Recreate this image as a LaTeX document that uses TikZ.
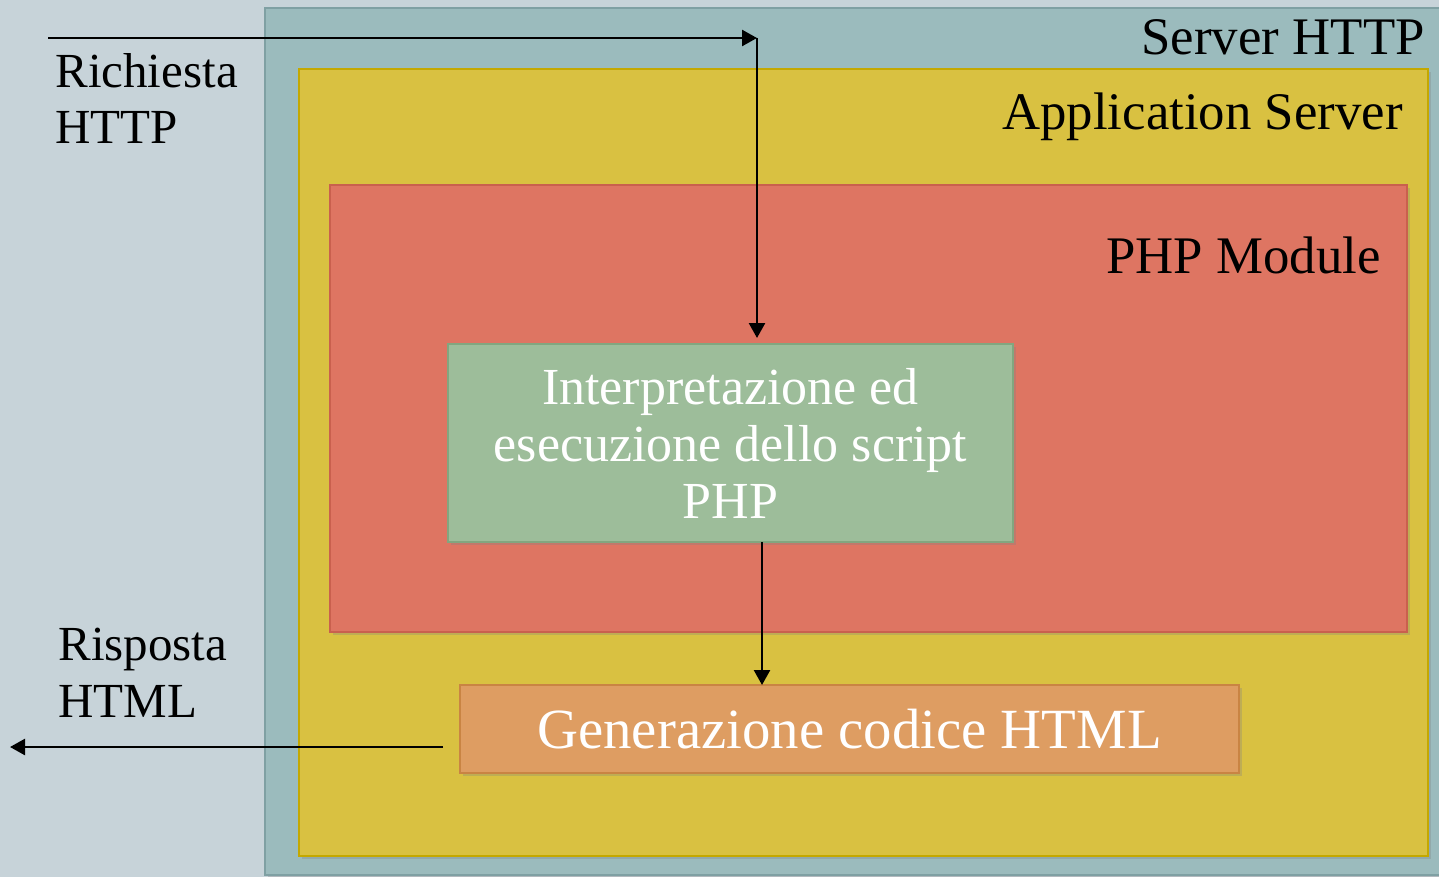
\documentclass[tikz,border=0pt]{standalone}
\usepackage{fontspec}
\setmainfont{Liberation Serif}
\usepackage{tikz}
\usetikzlibrary{arrows.meta,positioning,calc,shadows}
\usepackage{xcolor}
\definecolor{pagebg}{HTML}{C7D3D9}
\definecolor{srvfill}{HTML}{9BBBBD}
\definecolor{srvdraw}{HTML}{7FA0A3}
\definecolor{appfill}{HTML}{D9C141}
\definecolor{appdraw}{HTML}{C4A800}
\definecolor{phpfill}{HTML}{DE7562}
\definecolor{phpdraw}{HTML}{C9604E}
\definecolor{runfill}{HTML}{9DBD9A}
\definecolor{rundraw}{HTML}{82A67F}
\definecolor{genfill}{HTML}{DE9D62}
\definecolor{gendraw}{HTML}{C98443}

\begin{document}
\begin{tikzpicture}[x=0.5pt, y=-0.5pt,
    layer/.style={rectangle, line width=0.75pt, inner sep=0pt, outer sep=0pt,
        drop shadow={shadow xshift=1.5pt, shadow yshift=-1.5pt, opacity=0.3}},
    stepbox/.style={layer, text=white, align=center},
    lbl/.style={font=\fontsize{26.4}{28}\selectfont, inner sep=0pt, align=left},
    side/.style={lbl, anchor=north west, font=\fontsize{24.5}{28.2}\selectfont},
    arr/.style={-{Triangle[length=7.5pt, width=8pt]}, line width=1.25pt, black}
]
    \useasboundingbox (0,0) rectangle (1439,877);
    \fill[pagebg] (0,0) rectangle (1439,877);

    % Nested containers
    \node[layer, fill=srvfill, draw=srvdraw, minimum width=592.5pt, minimum height=433.5pt] (srv) at (857.5,441.5) {};
    \node[layer, fill=appfill, draw=appdraw, minimum width=564.5pt, minimum height=393.5pt] (app) at (863.5,462.5) {};
    \node[layer, fill=phpfill, draw=phpdraw, minimum width=538.5pt, minimum height=223.5pt] (php) at (868.5,408.5) {};

    % Processing steps
    \node[stepbox, fill=runfill, draw=rundraw, minimum width=282.5pt, minimum height=99pt,
        font=\fontsize{26}{28.5}\selectfont] (interp) at (730.5,443)
        {Interpretazione ed\\esecuzione dello script\\PHP};
    \node[stepbox, fill=genfill, draw=gendraw, minimum width=389.5pt, minimum height=44pt,
        font=\fontsize{28.4}{30}\selectfont] (gen) at (849.5,729) {Generazione codice HTML};

    % Container titles
    \node[lbl, anchor=base east] (srvtitle) at (1425,55) {Server HTTP};
    \node[lbl, anchor=base east] (apptitle) at (1403,130) {Application Server};
    \node[lbl, anchor=base east] (phptitle) at (1381,273) {PHP Module};

    % Request / response
    \node[side] (req) at (55,53) {Richiesta\\HTTP};
    \node[side] (resp) at (58,628) {Risposta\\HTML};

    \coordinate (reqin) at (48,38);
    \coordinate (bend) at (757,38);
    \coordinate (respout) at (10,747);

    \draw[arr] (reqin) -- (bend);
    \draw[arr, shorten >=3pt] (bend) -- (bend |- interp.north);
    \draw[arr] ([xshift=15.75pt]interp.south) -- ([xshift=15.75pt]interp.south |- gen.north);
    \draw[arr, shorten <=8.5pt] (gen.west |- respout) -- (respout);
\end{tikzpicture}
\end{document}
